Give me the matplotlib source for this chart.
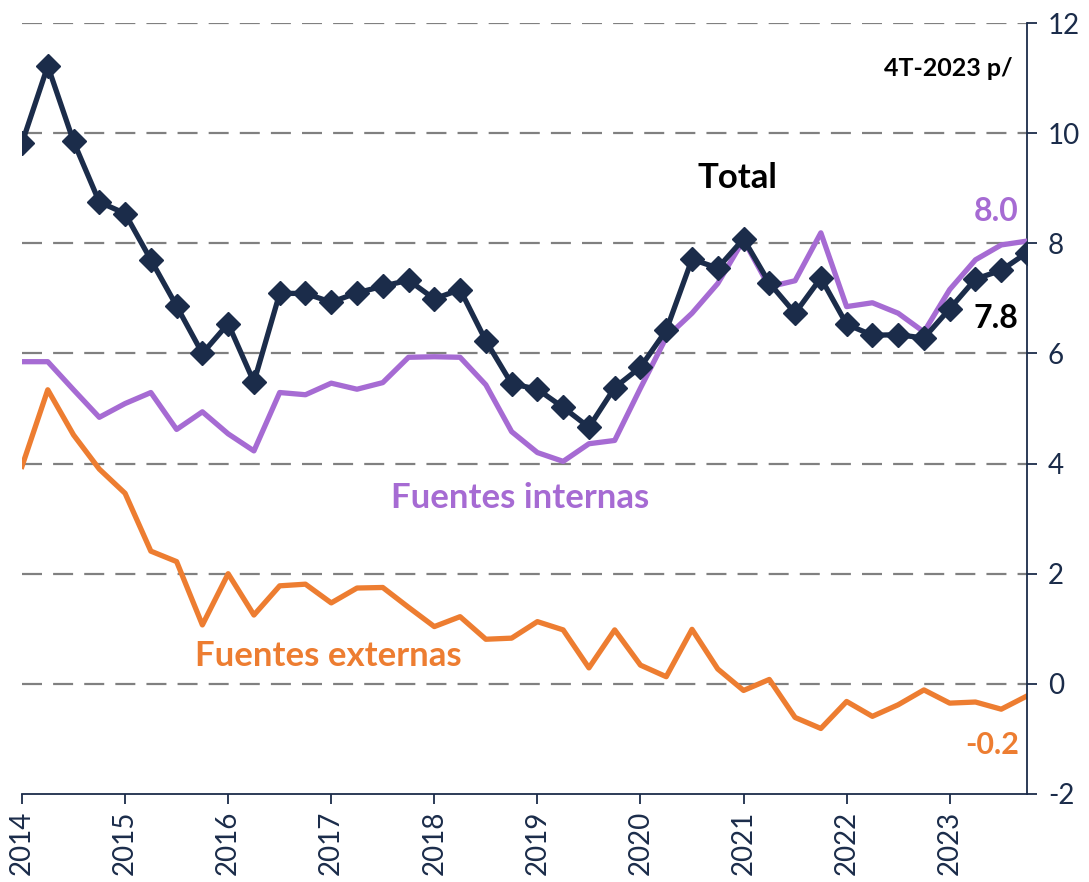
import numpy as np
import matplotlib
matplotlib.use("Agg")
import matplotlib.pyplot as plt

plt.rcParams['font.family'] = ['Lato', 'DejaVu Sans']

# quarterly series, 2014Q1 .. 2023Q4
years = [2014, 2015, 2016, 2017, 2018, 2019, 2020, 2021, 2022, 2023]

total = [9.82, 11.22, 9.85, 8.75, 8.54, 7.70, 6.86, 6.00, 6.54, 5.48,
         7.09, 7.09, 6.93, 7.10, 7.22, 7.33, 6.99, 7.16, 6.23, 5.45,
         5.35, 5.02, 4.66, 5.38, 5.75, 6.42, 7.71, 7.55, 8.08, 7.28,
         6.73, 7.37, 6.53, 6.33, 6.34, 6.28, 6.81, 7.35, 7.51, 7.83]

internas = [5.85, 5.85, 5.34, 4.84, 5.09, 5.29, 4.62, 4.94, 4.54, 4.23,
            5.29, 5.25, 5.46, 5.35, 5.47, 5.93, 5.94, 5.93, 5.43, 4.58,
            4.20, 4.04, 4.36, 4.42, 5.37, 6.29, 6.73, 7.27, 8.06, 7.21,
            7.32, 8.19, 6.85, 6.92, 6.73, 6.39, 7.16, 7.70, 7.97, 8.04]

externas = [3.95, 5.34, 4.52, 3.90, 3.46, 2.41, 2.22, 1.07, 2.00, 1.25,
            1.78, 1.81, 1.47, 1.74, 1.75, 1.39, 1.04, 1.22, 0.81, 0.83,
            1.13, 0.98, 0.29, 0.98, 0.34, 0.13, 0.99, 0.27, -0.12, 0.08,
            -0.61, -0.81, -0.32, -0.59, -0.38, -0.11, -0.35, -0.33, -0.46, -0.22]

NAVY = '#1b2c4a'
PURPLE = '#a66bd3'
ORANGE = '#ed7d31'

x = years[0] + np.arange(len(total)) / 4.0

fig = plt.figure(figsize=(10.89, 8.82), dpi=100)
ax = fig.add_axes([22 / 1089, 1 - 794 / 882, (1027 - 22) / 1089, (794 - 23) / 882])

for y in range(0, 13, 2):
    ax.axhline(y, color='#808080', lw=1.6, dashes=(9, 5), zorder=1)

ax.plot(x, externas, color=ORANGE, lw=3.8, zorder=2)
ax.plot(x, internas, color=PURPLE, lw=3.8, zorder=3)
ax.plot(x, total, color=NAVY, lw=3.8, marker='D', markersize=12, zorder=4)

ax.set_xlim(2014, 2023.75)
ax.set_ylim(-2, 12)

ax.spines['left'].set_visible(False)
ax.spines['top'].set_visible(False)
for s in ['right', 'bottom']:
    ax.spines[s].set_color(NAVY)
    ax.spines[s].set_linewidth(1.3)

ax.yaxis.tick_right()
ax.set_yticks(range(-2, 13, 2))
ax.set_yticklabels([str(v) for v in range(-2, 13, 2)])
ax.set_xticks(years)
ax.set_xticklabels([str(v) for v in years], rotation=90)
ax.tick_params(axis='y', direction='out', length=7, width=1.3, color=NAVY,
               labelsize=20, labelcolor=NAVY, pad=8)
ax.tick_params(axis='x', direction='out', length=7, width=1.3, color=NAVY,
               labelsize=20, labelcolor=NAVY, pad=5)

# annotations
ax.text(2023.61, 11.18, '4T-2023 p/', fontsize=18, fontweight='bold',
        color='black', ha='right', va='center')
ax.text(2020.94, 9.18, 'Total', fontsize=25, fontweight='bold',
        color='black', ha='center', va='center')
ax.text(2023.67, 8.57, '8.0', fontsize=23, fontweight='bold',
        color=PURPLE, ha='right', va='center')
ax.text(2023.67, 6.64, '7.8', fontsize=23, fontweight='bold',
        color='black', ha='right', va='center')
ax.text(2018.83, 3.38, 'Fuentes internas', fontsize=25, fontweight='bold',
        color=PURPLE, ha='center', va='center')
ax.text(2016.97, 0.51, 'Fuentes externas', fontsize=25, fontweight='bold',
        color=ORANGE, ha='center', va='center')
ax.text(2023.67, -1.11, '-0.2', fontsize=22, fontweight='bold',
        color=ORANGE, ha='right', va='center')

fig.savefig('out.png', dpi=100)
